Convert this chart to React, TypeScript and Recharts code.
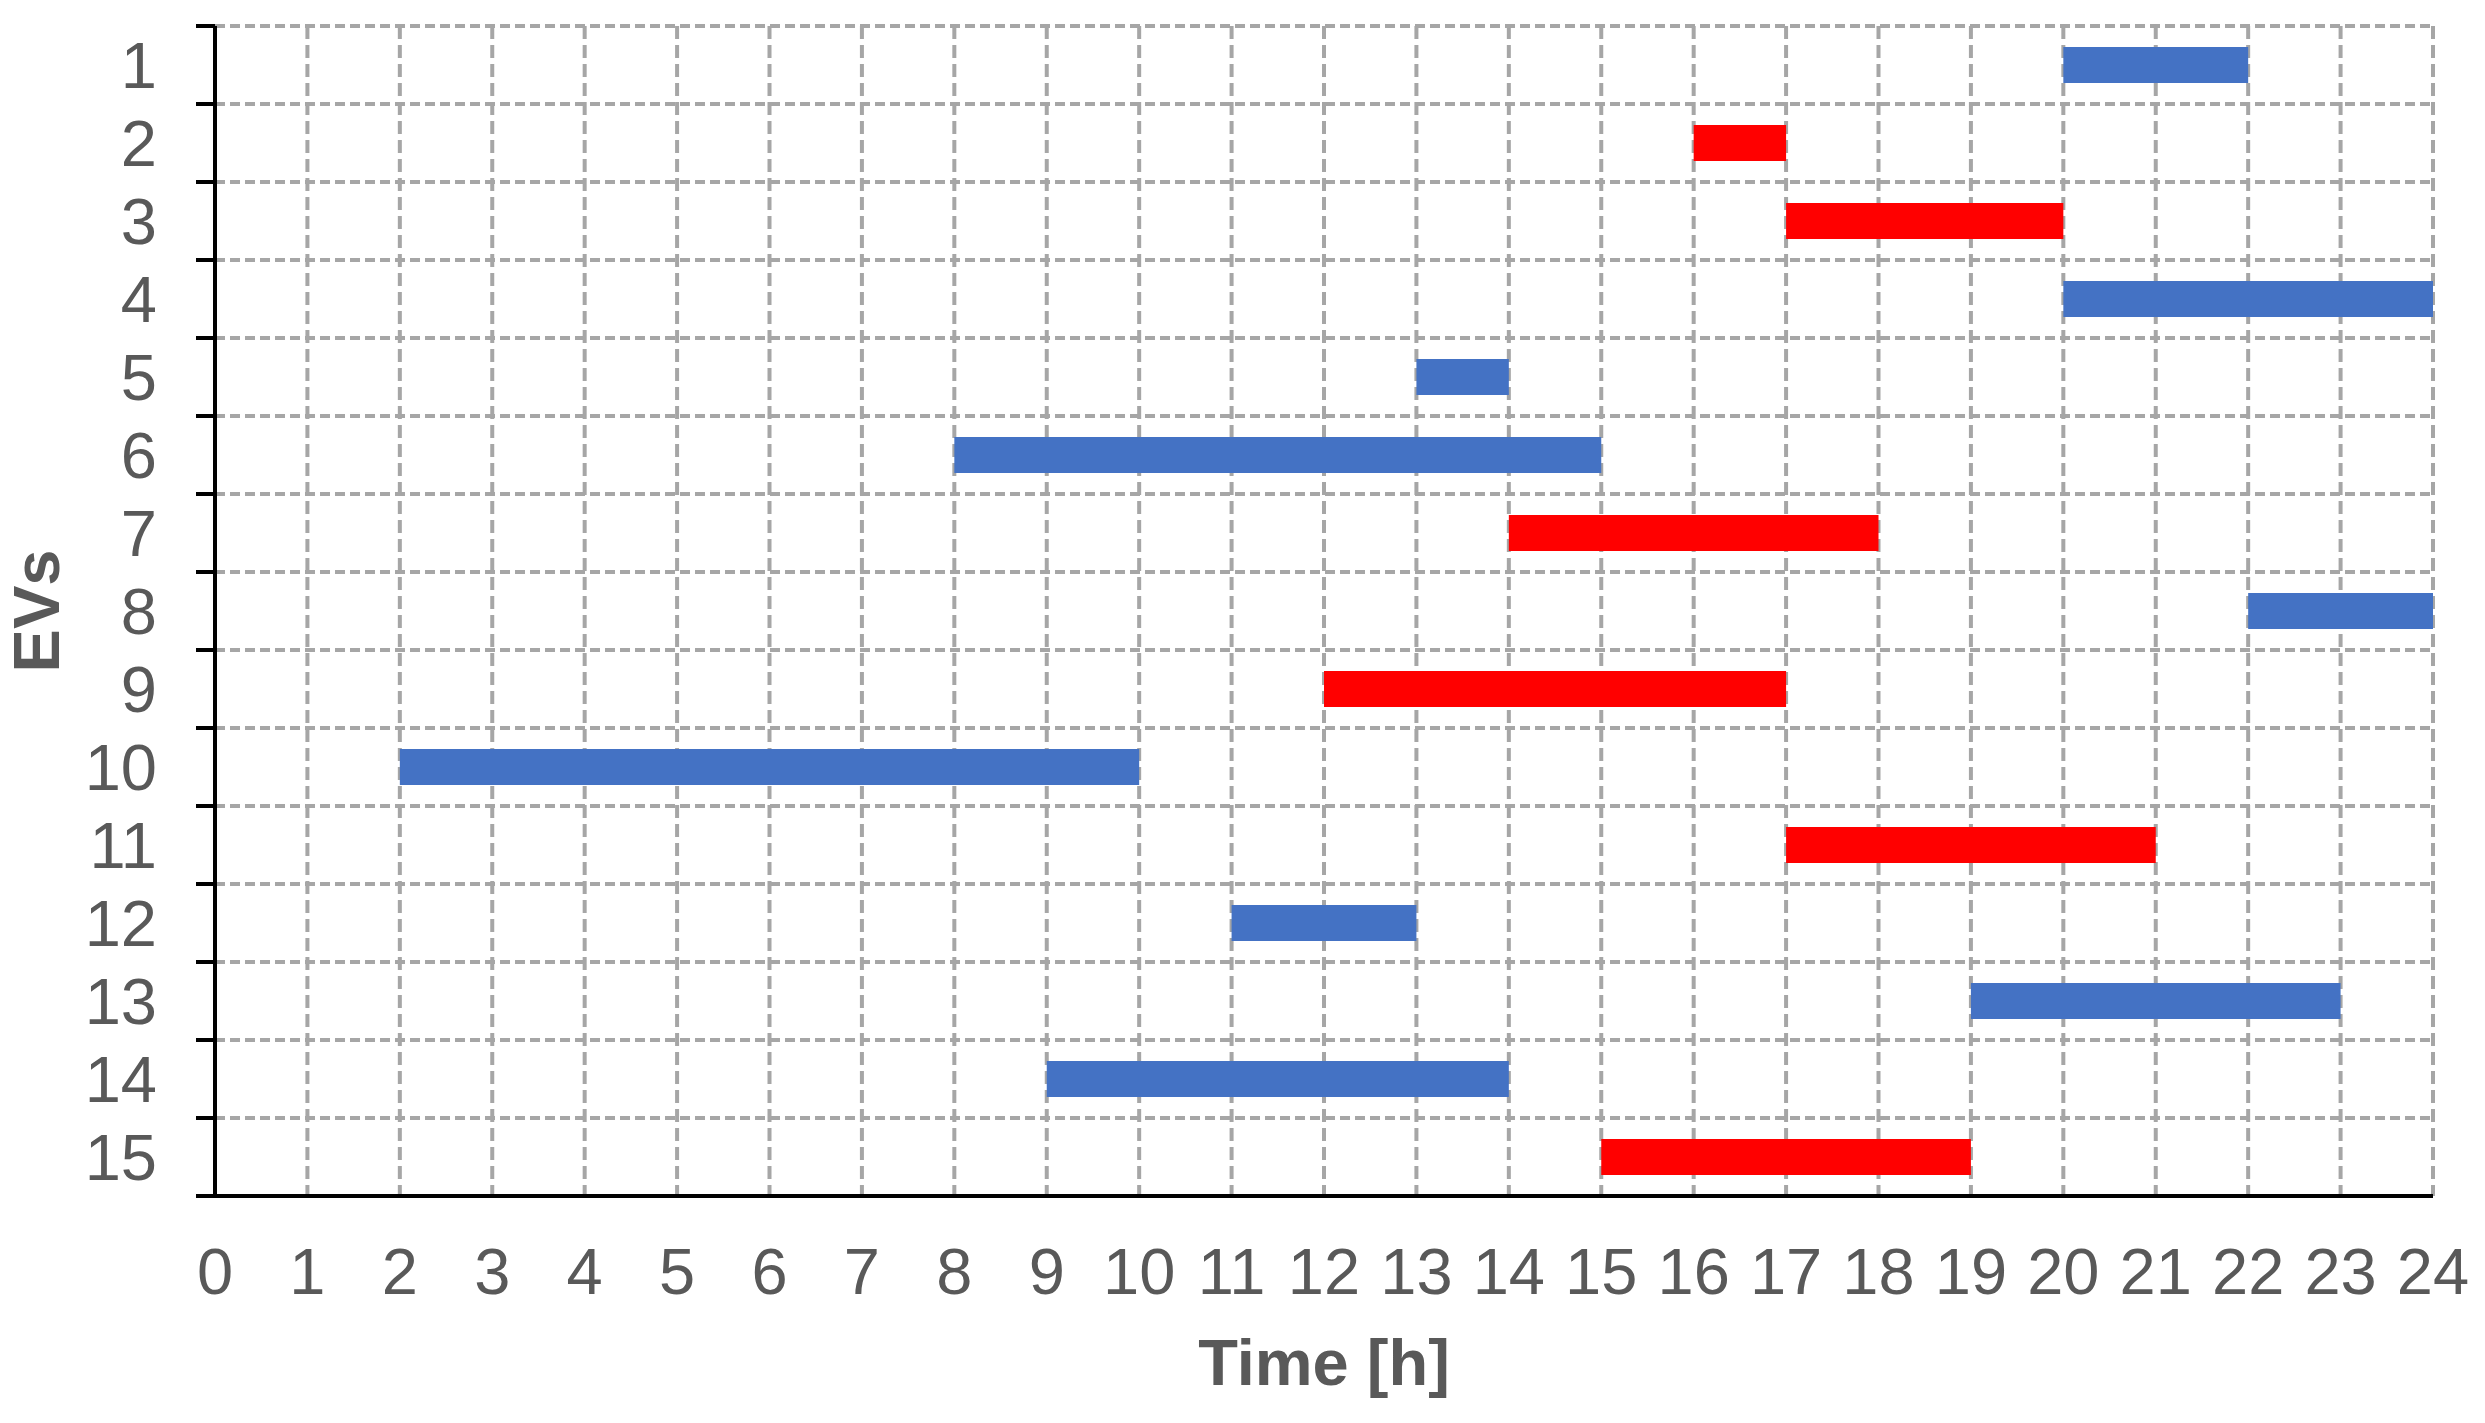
import { ComposedChart, Bar, Cell, XAxis, YAxis, CartesianGrid, Label } from 'recharts';

const evs = ['1', '2', '3', '4', '5', '6', '7', '8', '9', '10', '11', '12', '13', '14', '15'];
const startHour = [20, 16, 17, 20, 13, 8, 14, 22, 12, 2, 17, 11, 19, 9, 15];
const endHour = [22, 17, 20, 24, 14, 15, 18, 24, 17, 10, 21, 13, 23, 14, 19];
const kind = ['b', 'r', 'r', 'b', 'b', 'b', 'r', 'b', 'r', 'b', 'r', 'b', 'b', 'b', 'r'];
const hourTicks = [0, 1, 2, 3, 4, 5, 6, 7, 8, 9, 10, 11, 12, 13, 14, 15, 16, 17, 18, 19, 20, 21, 22, 23, 24];
const slotTicks = [0, 1, 2, 3, 4, 5, 6, 7, 8, 9, 10, 11, 12, 13, 14, 15];

const colors: Record<string, string> = { b: '#4472C4', r: '#FF0000' };

// slot = lower row boundary, used by the numeric axis that draws the row grid
const data = evs.map((ev, i) => ({ ev, slot: i + 1, span: [startHour[i], endHour[i]], kind: kind[i] }));

const FONT = '"Liberation Sans", Arial, sans-serif';
const GREY = '#595959';
const GRID = '#A6A6A6';

const NoLabel = () => <g />;

const gridLine = (dash: string) => (p: any) => (
  <line
    key={p.key}
    x1={p.x1}
    y1={p.y1}
    x2={p.x2}
    y2={p.y2}
    stroke={GRID}
    strokeWidth={4}
    strokeDasharray={dash}
    fill="none"
  />
);

export default function App() {
  return (
    <div style={{ position: 'absolute', left: 0, top: 0, fontFamily: FONT }}>
      <ComposedChart
        width={2485}
        height={1423}
        data={data}
        layout="vertical"
        margin={{ top: 26, right: 52, left: 0, bottom: 0 }}
      >
        <CartesianGrid yAxisId="a_slot" vertical={false} horizontal={gridLine('10 5')} />
        <CartesianGrid yAxisId="a_slot" horizontal={false} vertical={gridLine('13 6')} />
        <XAxis
          type="number"
          domain={[0, 24]}
          ticks={hourTicks}
          interval={0}
          height={227}
          tickLine={false}
          tickSize={0}
          tickMargin={52}
          axisLine={{ stroke: '#000', strokeWidth: 4 }}
          tick={{ fill: GREY, fontSize: 65, fontFamily: FONT }}
        >
          <Label
            value="Time [h]"
            position="insideBottom"
            offset={38}
            fill={GREY}
            fontSize={65}
            fontWeight="bold"
            fontFamily={FONT}
          />
        </XAxis>
        <YAxis
          yAxisId="b_ev"
          type="category"
          dataKey="ev"
          interval={0}
          width={214}
          tickLine={false}
          axisLine={false}
          tickSize={19}
          tickMargin={38}
          tick={{ fill: GREY, fontSize: 65, fontFamily: FONT }}
        >
          <Label
            content={({ viewBox }: any) => (
              <text
                x={viewBox.x + 36}
                y={viewBox.y + viewBox.height / 2}
                transform={`rotate(-90, ${viewBox.x + 36}, ${viewBox.y + viewBox.height / 2})`}
                textAnchor="middle"
                dominantBaseline="central"
                fill={GREY}
                fontSize={65}
                fontWeight="bold"
                fontFamily={FONT}
              >
                EVs
              </text>
            )}
          />
        </YAxis>
        <YAxis
          yAxisId="a_slot"
          type="number"
          dataKey="slot"
          domain={[0, 15]}
          allowDataOverflow
          ticks={slotTicks}
          interval={0}
          reversed
          width={1}
          tick={NoLabel}
          tickSize={19}
          tickLine={{ stroke: '#000', strokeWidth: 4 }}
          axisLine={{ stroke: '#000', strokeWidth: 4 }}
        />
        <Bar yAxisId="b_ev" dataKey="span" barSize={36} isAnimationActive={false}>
          {data.map((d) => (
            <Cell key={d.ev} fill={colors[d.kind]} />
          ))}
        </Bar>
      </ComposedChart>
    </div>
  );
}
